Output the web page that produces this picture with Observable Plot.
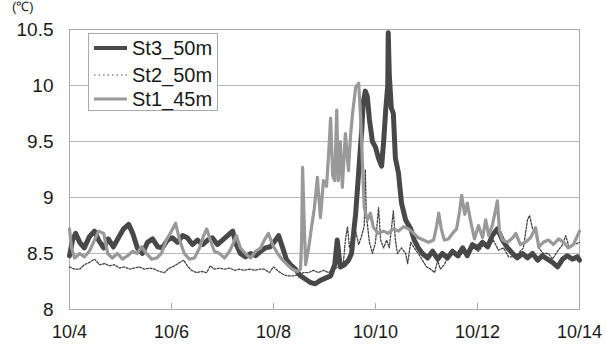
<!DOCTYPE html>
<html>
<head>
<meta charset="utf-8">
<script src="https://cdn.jsdelivr.net/npm/d3@7"></script>
<script src="https://cdn.jsdelivr.net/npm/@observablehq/plot@0.6"></script>
<style>
  html, body { margin: 0; padding: 0; background: #fff; }
  #chart { position: relative; width: 606px; height: 345px; overflow: hidden; }
</style>
</head>
<body>
<div id="chart"></div>
<script>
// x = days since 10/4 00:00, y = temperature (℃)
const xTicks = [0, 2, 4, 6, 8, 10];
const xLabels = ["10/4", "10/6", "10/8", "10/10", "10/12", "10/14"];
const yTicks = [8, 8.5, 9, 9.5, 10, 10.5];
const seriesNames = ["St3_50m", "St2_50m", "St1_45m"];

const st3 = [
  [0.00,8.48],[0.06,8.62],[0.12,8.68],[0.20,8.60],[0.29,8.55],[0.39,8.65],[0.49,8.70],[0.57,8.62],
  [0.67,8.55],[0.76,8.63],[0.86,8.56],[0.96,8.64],[1.06,8.72],[1.16,8.76],[1.24,8.68],[1.33,8.55],
  [1.43,8.50],[1.53,8.60],[1.63,8.63],[1.73,8.56],[1.82,8.55],[1.92,8.62],[2.02,8.64],[2.12,8.60],
  [2.22,8.66],[2.31,8.64],[2.41,8.58],[2.51,8.62],[2.61,8.58],[2.71,8.62],[2.80,8.64],[2.90,8.58],
  [3.00,8.62],[3.10,8.66],[3.20,8.70],[3.27,8.58],[3.35,8.50],[3.45,8.47],[3.55,8.50],[3.65,8.48],
  [3.75,8.52],[3.84,8.55],[3.94,8.56],[4.04,8.62],[4.10,8.66],[4.18,8.55],[4.25,8.45],[4.33,8.40],
  [4.43,8.36],[4.53,8.30],[4.63,8.27],[4.73,8.24],[4.82,8.23],[4.92,8.26],[5.02,8.28],[5.12,8.30],
  [5.20,8.40],[5.25,8.62],[5.31,8.38],[5.39,8.40],[5.47,8.44],[5.53,8.50],[5.57,8.68],[5.61,8.85],
  [5.65,9.10],[5.69,9.35],[5.73,9.60],[5.76,9.85],[5.80,9.95],[5.84,9.90],[5.88,9.70],[5.94,9.50],
  [6.00,9.45],[6.06,9.35],[6.12,9.28],[6.16,9.50],[6.20,9.78],[6.24,10.00],[6.25,10.47],[6.27,10.10],
  [6.31,9.80],[6.35,9.75],[6.39,9.35],[6.45,9.22],[6.51,8.95],[6.59,8.80],[6.69,8.72],[6.76,8.62],
  [6.84,8.55],[6.92,8.50],[7.02,8.46],[7.12,8.52],[7.22,8.45],[7.31,8.50],[7.41,8.46],[7.51,8.52],
  [7.61,8.48],[7.71,8.55],[7.80,8.48],[7.90,8.58],[8.00,8.55],[8.10,8.60],[8.20,8.56],[8.29,8.66],
  [8.39,8.72],[8.49,8.62],[8.59,8.55],[8.69,8.50],[8.78,8.46],[8.88,8.50],[8.98,8.46],[9.08,8.50],
  [9.18,8.44],[9.27,8.48],[9.37,8.45],[9.47,8.42],[9.57,8.38],[9.67,8.45],[9.76,8.48],[9.86,8.45],
  [9.96,8.47],[10.00,8.44]
];

const st2 = [
  [0.00,8.38],[0.10,8.36],[0.20,8.36],[0.29,8.40],[0.39,8.42],[0.49,8.45],[0.59,8.40],[0.69,8.41],
  [0.78,8.39],[0.88,8.40],[0.98,8.37],[1.08,8.38],[1.18,8.36],[1.27,8.37],[1.37,8.38],[1.47,8.36],
  [1.57,8.37],[1.67,8.36],[1.76,8.34],[1.86,8.33],[1.96,8.37],[2.06,8.39],[2.16,8.42],[2.24,8.44],
  [2.31,8.39],[2.39,8.35],[2.49,8.33],[2.59,8.34],[2.69,8.33],[2.76,8.39],[2.84,8.36],[2.94,8.37],
  [3.04,8.36],[3.14,8.37],[3.24,8.35],[3.33,8.36],[3.43,8.35],[3.53,8.36],[3.63,8.35],[3.73,8.36],
  [3.82,8.36],[3.92,8.33],[4.00,8.38],[4.10,8.34],[4.20,8.31],[4.29,8.30],[4.39,8.30],[4.49,8.31],
  [4.59,8.33],[4.69,8.33],[4.78,8.35],[4.88,8.33],[4.98,8.35],[5.08,8.33],[5.18,8.36],[5.27,8.38],
  [5.37,8.42],[5.41,8.62],[5.45,8.74],[5.49,8.55],[5.55,8.62],[5.61,8.70],[5.67,8.58],[5.73,8.66],
  [5.78,8.75],[5.80,9.25],[5.82,8.85],[5.88,8.60],[5.94,8.50],[6.00,8.60],[6.06,8.91],[6.10,8.62],
  [6.16,8.55],[6.22,8.62],[6.27,8.55],[6.35,8.88],[6.39,8.62],[6.43,8.50],[6.51,8.55],[6.59,8.50],
  [6.63,8.41],[6.69,8.60],[6.76,8.55],[6.84,8.50],[6.92,8.44],[7.00,8.38],[7.08,8.36],[7.16,8.33],
  [7.22,8.44],[7.27,8.36],[7.35,8.40],[7.43,8.48],[7.53,8.50],[7.63,8.46],[7.73,8.52],[7.82,8.50],
  [7.92,8.55],[8.02,8.52],[8.12,8.58],[8.22,8.55],[8.31,8.62],[8.41,8.53],[8.51,8.55],[8.61,8.47],
  [8.71,8.47],[8.80,8.50],[8.90,8.55],[8.98,8.80],[9.02,8.84],[9.08,8.72],[9.14,8.68],[9.20,8.55],
  [9.29,8.50],[9.39,8.50],[9.47,8.45],[9.57,8.52],[9.67,8.58],[9.73,8.66],[9.80,8.55],[9.90,8.58],
  [10.00,8.60]
];

const st1 = [
  [0.00,8.72],[0.04,8.55],[0.10,8.46],[0.20,8.50],[0.29,8.47],[0.39,8.52],[0.49,8.62],[0.57,8.70],
  [0.67,8.68],[0.75,8.50],[0.84,8.46],[0.94,8.50],[1.04,8.45],[1.14,8.48],[1.24,8.52],[1.33,8.50],
  [1.41,8.56],[1.51,8.50],[1.61,8.45],[1.71,8.46],[1.80,8.50],[1.90,8.62],[2.00,8.70],[2.08,8.77],
  [2.16,8.62],[2.25,8.50],[2.35,8.45],[2.45,8.46],[2.55,8.55],[2.63,8.66],[2.69,8.72],[2.76,8.62],
  [2.84,8.52],[2.94,8.50],[3.04,8.46],[3.14,8.52],[3.22,8.60],[3.27,8.66],[3.35,8.55],[3.45,8.50],
  [3.55,8.46],[3.65,8.52],[3.75,8.55],[3.82,8.62],[3.90,8.68],[3.98,8.58],[4.08,8.50],[4.18,8.44],
  [4.27,8.40],[4.37,8.36],[4.47,8.34],[4.53,8.36],[4.55,8.60],[4.57,9.27],[4.60,8.80],[4.63,8.40],
  [4.69,8.55],[4.75,8.75],[4.80,8.90],[4.86,9.18],[4.92,8.82],[4.98,9.15],[5.04,9.10],[5.08,9.38],
  [5.12,9.71],[5.16,9.20],[5.20,9.15],[5.24,9.78],[5.27,9.15],[5.31,9.50],[5.35,9.09],[5.41,9.57],
  [5.47,9.24],[5.51,9.55],[5.55,9.75],[5.61,9.98],[5.67,10.02],[5.71,9.70],[5.75,9.24],[5.78,8.91],
  [5.84,8.80],[5.90,8.86],[5.96,8.73],[6.06,8.68],[6.16,8.70],[6.25,8.68],[6.35,8.72],[6.45,8.70],
  [6.55,8.74],[6.65,8.72],[6.75,8.68],[6.84,8.64],[6.94,8.62],[7.04,8.60],[7.14,8.62],[7.20,8.75],
  [7.24,8.86],[7.29,8.72],[7.35,8.62],[7.43,8.63],[7.51,8.68],[7.59,8.72],[7.65,8.88],[7.69,9.02],
  [7.75,8.85],[7.80,8.95],[7.86,8.80],[7.94,8.63],[8.02,8.75],[8.10,8.64],[8.16,8.80],[8.22,8.66],
  [8.29,8.75],[8.35,8.88],[8.39,8.97],[8.43,8.70],[8.49,8.62],[8.59,8.60],[8.69,8.64],[8.75,8.68],
  [8.84,8.58],[8.94,8.60],[9.04,8.64],[9.14,8.73],[9.20,8.56],[9.29,8.60],[9.39,8.62],[9.49,8.58],
  [9.59,8.63],[9.69,8.60],[9.78,8.55],[9.88,8.58],[9.98,8.68],[10.00,8.70]
];

const W = 606, H = 345, mL = 69, mR = 27, mT = 29, mB = 36;
const fmtX = d => xLabels[xTicks.indexOf(d)];
const fmtY = d => String(d);

const chart = Plot.plot({
  width: W, height: H,
  marginLeft: mL, marginRight: mR, marginTop: mT, marginBottom: mB,
  style: { fontFamily: "'Liberation Sans', Arial, sans-serif", fontSize: "18px", color: "#1a1a1a", background: "#fff" },
  x: { domain: [0, 10] },
  y: { domain: [8, 10.5] },
  marks: [
    Plot.gridY(yTicks, { stroke: "#b8b8b8", strokeOpacity: 1 }),
    Plot.frame({ stroke: "#aaa" }),
    Plot.ruleX(xTicks.slice(1, -1), { stroke: "#aaa", insetTop: H - mT - mB - 6 }),
    Plot.axisY(yTicks, { tickSize: 0, tickPadding: 16, tickFormat: fmtY, fontSize: 19 }),
    Plot.axisX(xTicks, { tickSize: 0, tickPadding: 16, tickFormat: fmtX, fontSize: 18 }),
    Plot.line(st3, { x: d => d[0], y: d => d[1], stroke: "#484848", strokeWidth: 5, strokeLinejoin: "round" }),
    Plot.line(st2, { x: d => d[0], y: d => d[1], stroke: "#444", strokeWidth: 1.3, strokeDasharray: "2,1.6" }),
    Plot.line(st1, { x: d => d[0], y: d => d[1], stroke: "#999", strokeWidth: 3.2, strokeLinejoin: "round" })
  ]
});

document.getElementById("chart").appendChild(chart);

const svg = d3.select(chart);
// unit label at the top-left corner
svg.append("text").attr("x", 12).attr("y", 11).attr("font-size", 13).attr("fill", "#222")
  .attr("text-anchor", "start").text("(℃)");

// legend
const lg = svg.append("g");
lg.append("rect").attr("x", 88.5).attr("y", 33.5).attr("width", 129).attr("height", 77)
  .attr("fill", "#fff").attr("stroke", "#aaa");
const styles = [
  { stroke: "#4a4a4a", width: 3.8, dash: null },
  { stroke: "#555", width: 1.2, dash: "1.5,3" },
  { stroke: "#999", width: 3, dash: null }
];
const rowY = [48, 75, 99];
seriesNames.forEach((name, i) => {
  const l = lg.append("line").attr("x1", 94).attr("x2", 127).attr("y1", rowY[i]).attr("y2", rowY[i])
    .attr("stroke", styles[i].stroke).attr("stroke-width", styles[i].width);
  if (styles[i].dash) l.attr("stroke-dasharray", styles[i].dash);
  lg.append("text").attr("x", 132).attr("y", rowY[i]).attr("dy", "0.36em")
    .attr("text-anchor", "start").attr("font-size", 20).attr("fill", "#1a1a1a").text(name);
});
</script>
</body>
</html>
